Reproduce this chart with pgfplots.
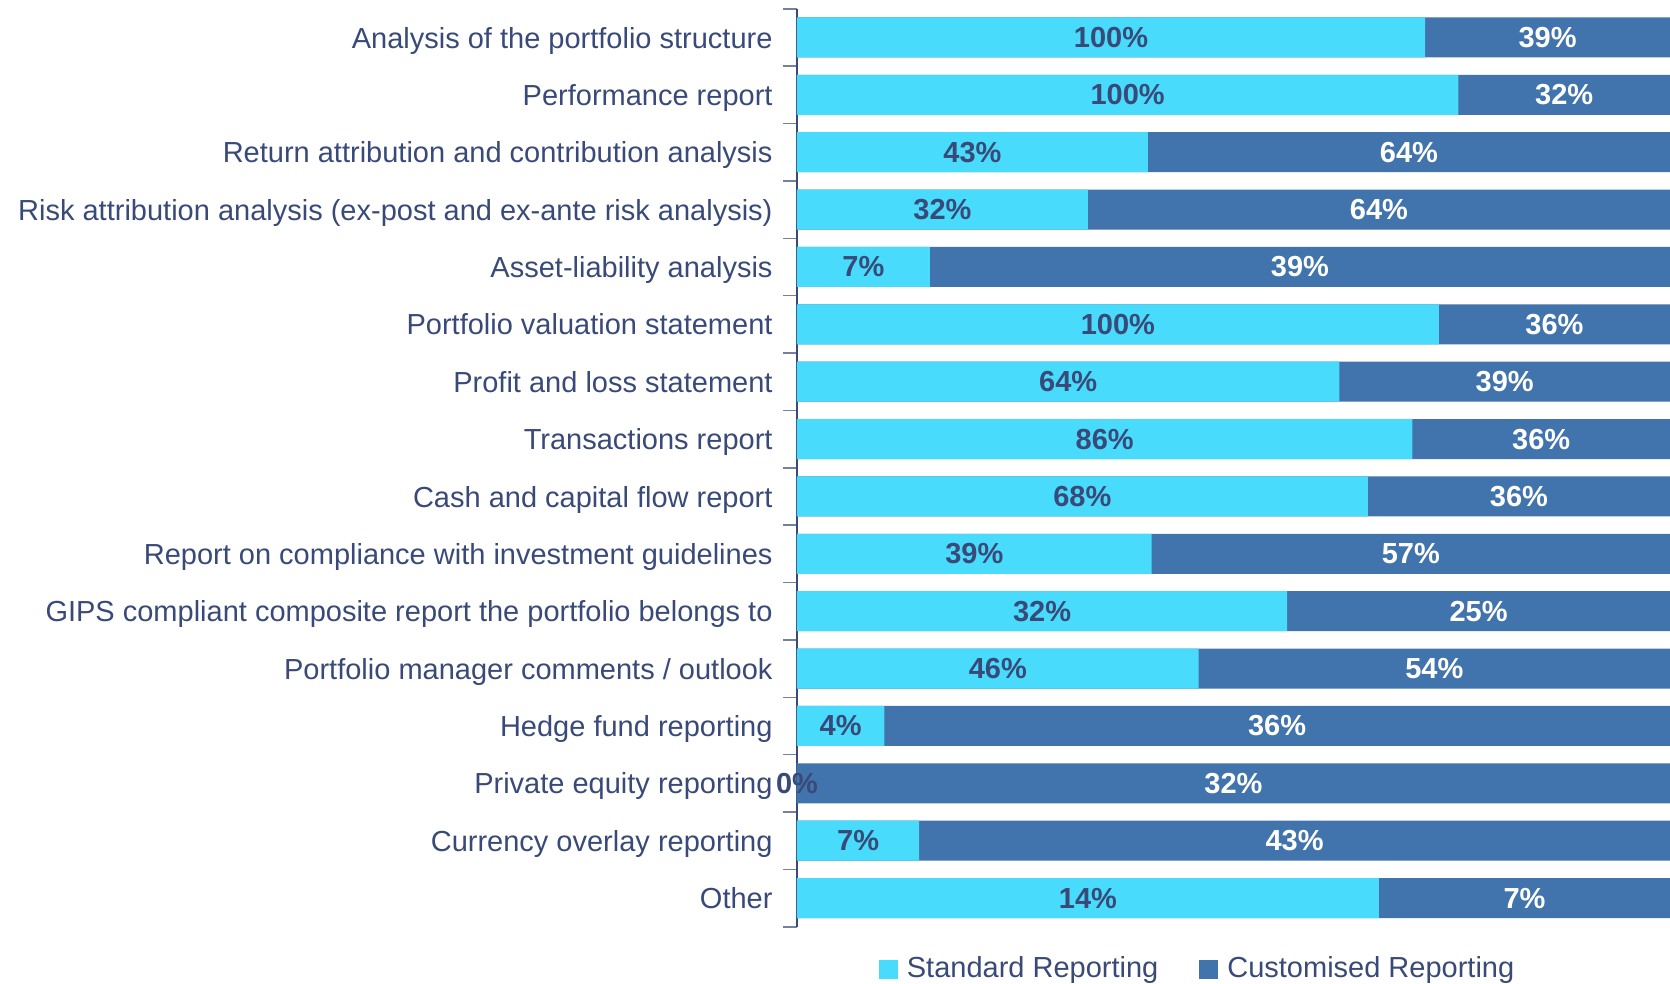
\documentclass[border=0pt]{standalone}
\usepackage{fontspec}
\setmainfont{Liberation Sans}
\usepackage{pgfplots}
\usepackage{pgfplotstable}
\pgfplotsset{compat=1.18}

\definecolor{stdc}{HTML}{48DBFB}
\definecolor{cusc}{HTML}{4173AC}
\definecolor{txt}{HTML}{394A79}

% share of respondents (raw %), bars are drawn as shares of std+cus
\pgfplotstableread{
idx std cus
1  100 39
2  100 32
3  43  64
4  32  64
5  7   39
6  100 36
7  64  39
8  86  36
9  68  36
10 39  57
11 32  25
12 46  54
13 4   36
14 0   32
15 7   43
16 14  7
}\reportdata

\pgfplotsset{
    barstyle/.style={xbar, bar width=20pt, bar shift=0pt, draw=none, forget plot},
    labelstyle/.style={draw=none, mark=none, forget plot, point meta=explicit,
        nodes near coords={\pgfmathprintnumber[assume math mode=true]{\pgfplotspointmeta}\%},
        nodes near coords align=center,
        every node near coord/.append style={font=\bfseries, text=#1}},
}

\begin{document}
\fontsize{14.5}{17.4}\selectfont
\begin{tikzpicture}
\begin{axis}[
    scale only axis,
    width=436.5pt, height=459pt,
    xmin=0, xmax=100,
    ymin=0.5, ymax=16.5,
    y dir=reverse,
    clip=false,
    hide x axis,
    axis y line*=left,
    y axis line style={txt, line width=0.8pt, -},
    ytick={1,...,16},
    yticklabels={
        Analysis of the portfolio structure,
        Performance report,
        Return attribution and contribution analysis,
        Risk attribution analysis (ex-post and ex-ante risk analysis),
        Asset-liability analysis,
        Portfolio valuation statement,
        Profit and loss statement,
        Transactions report,
        Cash and capital flow report,
        Report on compliance with investment guidelines,
        GIPS compliant composite report the portfolio belongs to,
        Portfolio manager comments / outlook,
        Hedge fund reporting,
        Private equity reporting,
        Currency overlay reporting,
        Other},
    major tick length=0pt,
    minor ytick={0.5,1.5,...,16.5},
    minor tick length=7pt,
    tick align=outside,
    minor y tick style={txt!70, line width=0.8pt},
    yticklabel style={text=txt, anchor=base east, xshift=-7.2pt, yshift=-5.3pt},
    legend columns=2,
    legend style={at={(axis description cs:0.46,-0.046)}, anchor=center,
        draw=none, fill=none, text=txt,
        /tikz/every even column/.append style={column sep=18.5pt}},
    legend image code/.code={\fill[#1] (0pt,-4.75pt) rectangle (9.5pt,4.75pt); \path (12pt,0pt);},
]
\addlegendimage{fill=stdc, draw=none}
\addlegendimage{fill=cusc, draw=none}
% customised bar spans the whole row, standard share is drawn over it
\addplot[barstyle, fill=cusc]
    table[x expr={(\thisrow{std}+\thisrow{cus})/(\thisrow{std}+\thisrow{cus})*100}, y=idx] {\reportdata};
\addplot[barstyle, fill=stdc]
    table[x expr={\thisrow{std}/(\thisrow{std}+\thisrow{cus})*100}, y=idx] {\reportdata};
% labels in the middle of each segment
\addplot[labelstyle=txt]
    table[x expr={\thisrow{std}/(\thisrow{std}+\thisrow{cus})*50}, y=idx, meta=std] {\reportdata};
\addplot[labelstyle=white]
    table[x expr={50+\thisrow{std}/(\thisrow{std}+\thisrow{cus})*50}, y=idx, meta=cus] {\reportdata};
\legend{Standard Reporting, Customised Reporting}
\end{axis}
\pgfresetboundingbox
\useasboundingbox ([xshift=-398.5pt, yshift=4.4pt]current axis.north west)
    rectangle ([yshift=-28.5pt]current axis.south east);
\end{tikzpicture}
\end{document}
